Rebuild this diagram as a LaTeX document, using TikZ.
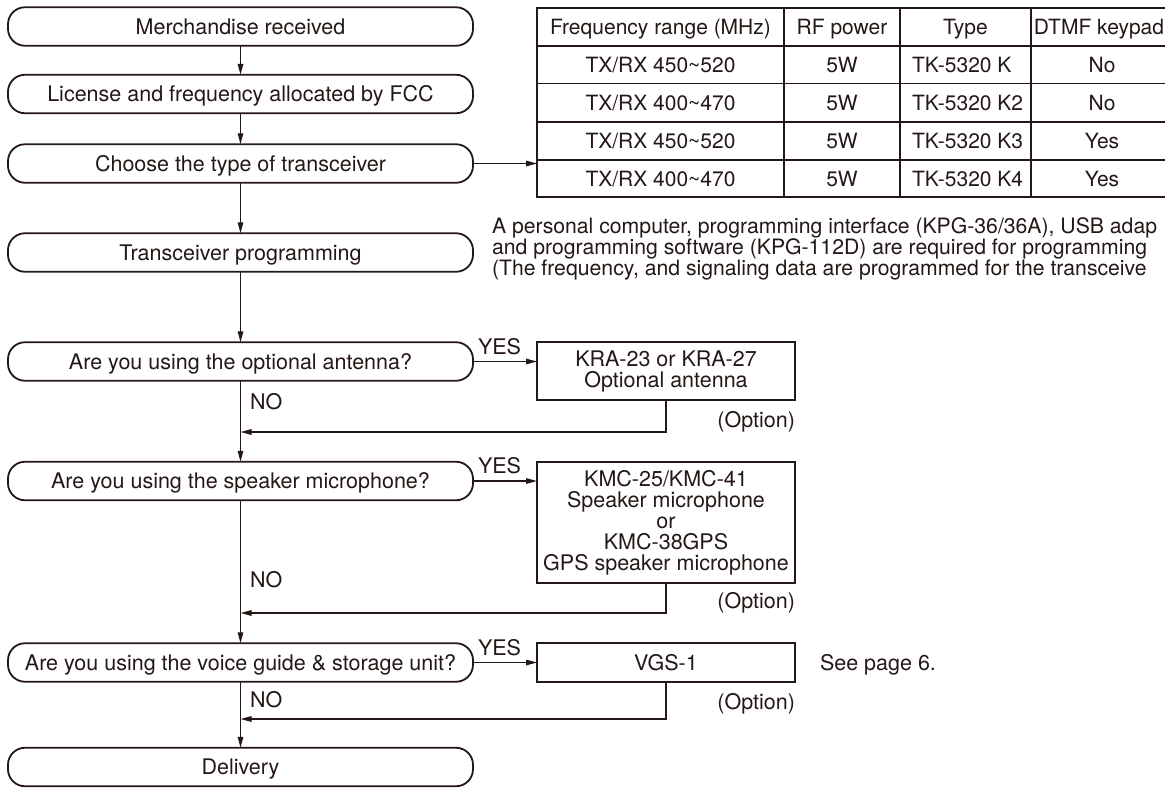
\documentclass[tikz,border=0pt]{standalone}
\usepackage{fontspec}
\setmainfont{TeX Gyre Heros}
\usetikzlibrary{arrows.meta}
\definecolor{ink}{HTML}{231815}
\begin{document}
\begin{tikzpicture}[x=1pt,y=-1pt,
  every node/.style={text=ink, font=\fontsize{21.5}{21}\selectfont, inner sep=0pt, outer sep=0pt},
  term/.style={draw=ink, line width=1.8pt, rounded corners=17pt, minimum width=465pt, minimum height=38.5pt, text height=15.4pt, text depth=0pt},
  optbox/.style={draw=ink, line width=2.2pt, minimum width=258pt, align=center},
  conn/.style={draw=ink, line width=1.4pt},
  arr/.style={conn, -{Triangle[length=11pt,width=5.5pt]}},
  lbl/.style={anchor=base west},
  rlbl/.style={anchor=base east},
  notetext/.style={anchor=base west, font=\fontsize{21.2}{21}\selectfont},
  cell/.style={anchor=base, font=\fontsize{21}{21}\selectfont},
  lcell/.style={anchor=base west, font=\fontsize{21}{21}\selectfont},
]
\useasboundingbox (0,0) rectangle (1165,788);

% main flow
\node[term] (merch)  at (240.5,26.5)  {Merchandise received};
\node[term] (lic)    at (240.5,94)    {License and frequency allocated by FCC};
\node[term] (choose) at (240.5,163.5) {Choose the type of transceiver};
\node[term] (prog)   at (240.5,252.5) {Transceiver programming};
\node[term] (qant)   at (240.5,361.5) {Are you using the optional antenna?};
\node[term] (qspk)   at (240.5,481)   {Are you using the speaker microphone?};
\node[term] (qvgs)   at (240.5,662.5) {Are you using the voice guide \& storage unit?};
\node[term] (deliv)  at (240.5,767)   {Delivery};

\draw[arr] (merch) -- (lic);
\draw[arr] (lic) -- (choose);
\draw[arr] (choose) -- (prog);
\draw[arr] (prog) -- (qant);
\draw[arr] (qant) -- (qspk);
\draw[arr] (qspk) -- (qvgs);
\draw[arr] (qvgs) -- (deliv);

% table
\node[draw=ink, line width=2.2pt, minimum width=640pt, minimum height=189pt] (tbl) at (857,102.5) {};
\foreach \yy in {46,83.5,122,160}
  \draw[conn] (537,\yy) -- (1177,\yy);
\foreach \xx in {784,900,1031}
  \draw[conn] (\xx,8) -- (\xx,197);
\node[cell] (h1) at (660.5,34.7) {Frequency range (MHz)};
\node[cell] (h2) at (842,34.7) {RF power};
\node[cell] (h3) at (965.5,34.7) {Type};
\node[cell] (h4) at (1099,34.7) {DTMF keypad};

\node[cell] (f1) at (660.5,72.2) {TX/RX 450\textasciitilde520};
\node[cell] (p1) at (842,72.2) {5W};
\node[lcell] (t1) at (912,72.2) {TK-5320 K};
\node[cell] (d1) at (1102,72.2) {No};

\node[cell] (f2) at (660.5,110.5) {TX/RX 400\textasciitilde470};
\node[cell] (p2) at (842,110.5) {5W};
\node[lcell] (t2) at (912,110.5) {TK-5320 K2};
\node[cell] (d2) at (1102,110.5) {No};

\node[cell] (f3) at (660.5,148.7) {TX/RX 450\textasciitilde520};
\node[cell] (p3) at (842,148.7) {5W};
\node[lcell] (t3) at (912,148.7) {TK-5320 K3};
\node[cell] (d3) at (1102,148.7) {Yes};

\node[cell] (f4) at (660.5,186.2) {TX/RX 400\textasciitilde470};
\node[cell] (p4) at (842,186.2) {5W};
\node[lcell] (t4) at (912,186.2) {TK-5320 K4};
\node[cell] (d4) at (1102,186.2) {Yes};

\draw[arr] (choose.east) -- (choose.east -| tbl.west);

% note
\node[notetext] (note1) at (492,233) {A personal computer, programming interface (KPG-36/36A), USB adap};
\node[notetext] (note2) at (492,254) {and programming software (KPG-112D) are required for programming};
\node[notetext] (note3) at (492,275) {(The frequency, and signaling data are programmed for the transceive};

% option boxes
\node[optbox, minimum height=58pt] (bant) at (666,371) {KRA-23 or KRA-27\\Optional antenna};
\node[optbox, minimum height=121pt] (bspk) at (666,522.5) {KMC-25/KMC-41\\Speaker microphone\\or\\KMC-38GPS\\GPS speaker microphone};
\node[optbox, minimum height=39pt, text height=15.4pt, text depth=0pt] (bvgs) at (666,662.5) {VGS-1};

\draw[arr] (qant.east) -- (qant.east -| bant.west);
\draw[arr] (qspk.east) -- (qspk.east -| bspk.west);
\draw[arr] (qvgs.east) -- (qvgs.east -| bvgs.west);

\node[lbl] (yes1) at (478,354) {YES};
\node[lbl] (yes2) at (478,473) {YES};
\node[lbl] (yes3) at (478,655) {YES};

\node[lbl] (no1) at (250,409.7) {NO};
\node[lbl] (no2) at (250,587.7) {NO};
\node[lbl] (no3) at (250,707.7) {NO};

\node[rlbl] (opt1) at (795,427.7) {(Option)};
\node[rlbl] (opt2) at (795,608.7) {(Option)};
\node[rlbl] (opt3) at (795,709.7) {(Option)};

\node[lbl] (see) at (820,670.7) {See page 6.};

\coordinate (m1) at (240.5,432);
\coordinate (m2) at (240.5,613);
\coordinate (m3) at (240.5,719);
\draw[arr] (bant.south) |- (m1);
\draw[arr] (bspk.south) |- (m2);
\draw[arr] (bvgs.south) |- (m3);
\end{tikzpicture}
\end{document}
